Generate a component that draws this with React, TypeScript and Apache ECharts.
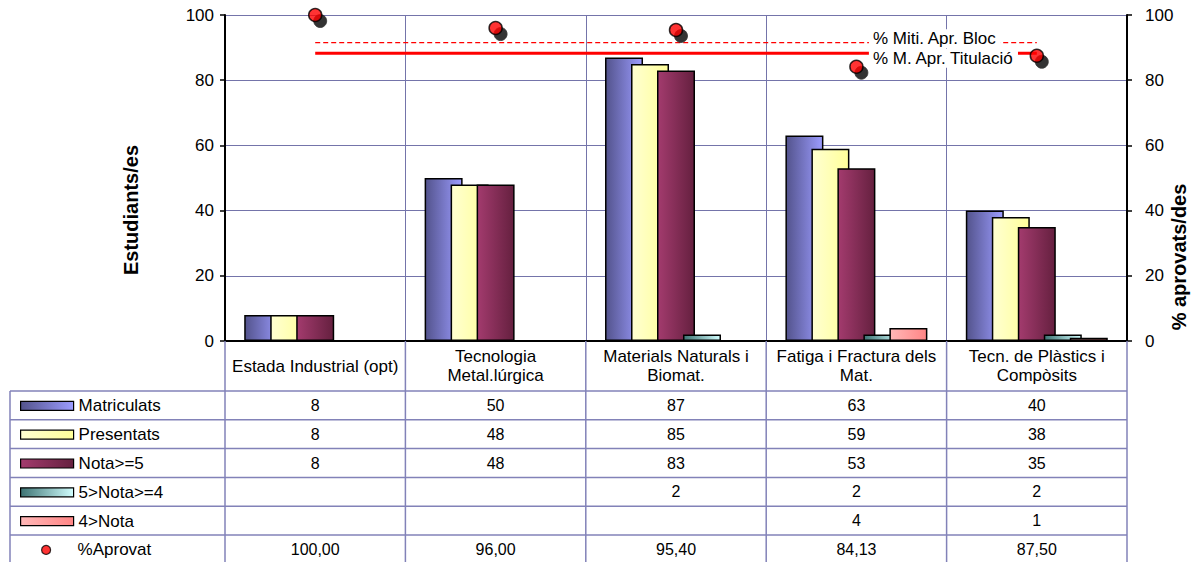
import React, { useEffect, useRef } from 'react';
import * as echarts from 'echarts';

// ---------- data ----------
const categories = [
  'Estada Industrial (opt)',
  'Tecnologia\nMetal.lúrgica',
  'Materials Naturals i\nBiomat.',
  'Fatiga i Fractura dels\nMat.',
  'Tecn. de Plàstics i\nCompòsits',
];
const matriculats = [8, 50, 87, 63, 40];
const presentats = [8, 48, 85, 59, 38];
const notaMes5 = [8, 48, 83, 53, 35];
const nota4a5 = [null, null, 2, 2, 2];
const notaMenys4 = [null, null, null, 4, 1];
const aprovat = [100, 96, 95.4, 84.13, 87.5];
const mitjaBloc = [91.5, 91.5, 91.5, 91.5, 91.5];
const mitjaTitulacio = [88.3, 88.3, 88.3, 88.3, 88.3];
const axisMin = 0;
const axisMax = 100;
const axisStep = 20;

// ---------- layout ----------
const W = 1198;
const H = 562;
const GL = 225;
const GR = 1127;
const GT = 15;
const GB = 341;
const TABLE_LEFT = 10;
const ROW_TOP = 391;
const ROW_H = 28.8;
const FONT = 'Arial, "Liberation Sans", sans-serif';
const GRIDC = '#7474aa';
const TABLEC = '#8282b8';

const grad = (a: string, b: string) =>
  new echarts.graphic.LinearGradient(0, 0, 1, 0, [
    { offset: 0, color: a },
    { offset: 1, color: b },
  ]);

const fmtInt = (v: number | null) => (v == null ? '' : String(v));
const fmtPct = (v: number | null) => (v == null ? '' : v.toFixed(2).replace('.', ','));

const barSeries = [
  { name: 'Matriculats', data: matriculats, color: grad('#53538c', '#9c9cff') },
  { name: 'Presentats', data: presentats, color: grad('#ffffd2', '#ffff99') },
  { name: 'Nota>=5', data: notaMes5, color: grad('#a33b6e', '#65203f') },
  { name: '5>Nota>=4', data: nota4a5, color: grad('#3d7373', '#d2ffff') },
  { name: '4>Nota', data: notaMenys4, color: grad('#ffb8b8', '#ff8585') },
];

const tableRows = [
  { name: 'Matriculats', values: matriculats, fmt: fmtInt },
  { name: 'Presentats', values: presentats, fmt: fmtInt },
  { name: 'Nota>=5', values: notaMes5, fmt: fmtInt },
  { name: '5>Nota>=4', values: nota4a5, fmt: fmtInt },
  { name: '4>Nota', values: notaMenys4, fmt: fmtInt },
  { name: '%Aprovat', values: aprovat, fmt: fmtPct },
];

function buildOption() {
  const rowCenter = (i: number) => ROW_TOP + ROW_H / 2 + i * ROW_H;
  const tableBottom = ROW_TOP + tableRows.length * ROW_H;
  const catW = (GR - GL) / categories.length;

  const xAxes: any[] = [
    {
      type: 'category',
      data: categories,
      position: 'bottom',
      axisLine: { show: true, lineStyle: { color: TABLEC, width: 1.5 } },
      axisTick: { show: false },
      splitLine: { show: true, lineStyle: { color: GRIDC, width: 1 } },
      axisLabel: {
        interval: 0,
        margin: 25,
        verticalAlign: 'middle',
        lineHeight: 19,
        fontSize: 17,
        fontFamily: FONT,
        color: '#000',
      },
    },
    {
      type: 'category',
      data: categories,
      position: 'top',
      axisLine: { show: true, lineStyle: { color: '#000', width: 2 } },
      axisTick: { show: false },
      axisLabel: { show: false },
      splitLine: { show: false },
    },
  ];
  tableRows.forEach((row, i) => {
    xAxes.push({
      type: 'category',
      data: categories,
      position: 'bottom',
      offset: rowCenter(i) - GB,
      axisLine: { show: false },
      axisTick: { show: false },
      splitLine: { show: false },
      axisLabel: {
        interval: 0,
        margin: 0,
        verticalAlign: 'middle',
        fontSize: 16,
        fontFamily: FONT,
        color: '#000',
        formatter: (_v: string, idx: number) => row.fmt(row.values[idx] as any),
      },
    });
  });

  const yAxisCommon = {
    type: 'value',
    min: axisMin,
    max: axisMax,
    interval: axisStep,
    axisLine: { show: true, lineStyle: { color: '#000', width: 2 } },
    axisTick: { show: true, length: 5, lineStyle: { color: '#000', width: 1.5 } },
    axisLabel: { fontSize: 17, fontFamily: FONT, color: '#000' },
  };

  const series: any[] = barSeries.map((b) => ({
    type: 'bar',
    name: b.name,
    data: b.data,
    barWidth: 38,
    barGap: '-31.6%',
    xAxisIndex: 0,
    yAxisIndex: 0,
    itemStyle: { color: b.color, borderColor: '#000', borderWidth: 1.5 },
    z: 2,
  }));

  const lineLabel = (text: string, dy: number) => ({
    show: true,
    position: 'right',
    distance: 12,
    offset: [0, dy],
    formatter: text,
    fontSize: 17,
    fontFamily: FONT,
    color: '#000',
    backgroundColor: '#fff',
    padding: [1, 4, 1, 4],
  });

  const refLine = (name: string, values: number[], label: string, dy: number, lineStyle: any) => ({
    type: 'line',
    name,
    xAxisIndex: 0,
    yAxisIndex: 1,
    symbol: 'circle',
    symbolSize: 1,
    showSymbol: true,
    itemStyle: { color: 'rgba(0,0,0,0)', borderWidth: 0 },
    lineStyle,
    data: values.map((v, i) =>
      i === 3 ? { value: v, label: lineLabel(label, dy) } : v,
    ),
    z: 3,
  });

  series.push(
    refLine('% Miti. Apr. Bloc', mitjaBloc, '% Miti. Apr. Bloc', -4, {
      color: '#ff0000',
      width: 1.3,
      type: [5, 3],
    }),
  );
  series.push(
    refLine('% M. Apr. Titulació', mitjaTitulacio, '% M. Apr. Titulació', 5, {
      color: '#ff0000',
      width: 3,
    }),
  );
  series.push({
    type: 'scatter',
    name: 'shadow',
    xAxisIndex: 0,
    yAxisIndex: 1,
    data: aprovat,
    symbol: 'circle',
    symbolSize: 13,
    symbolOffset: [5, 6],
    itemStyle: { color: '#000', borderColor: '#333', borderWidth: 1 },
    z: 4,
  });
  series.push({
    type: 'scatter',
    name: '%Aprovat',
    xAxisIndex: 0,
    yAxisIndex: 1,
    data: aprovat,
    symbol: 'circle',
    symbolSize: 13,
    itemStyle: { color: '#ff0000', borderColor: '#000', borderWidth: 1.5 },
    z: 5,
  });

  const legends = tableRows.map((row, i) => ({
    data: [row.name],
    orient: 'horizontal',
    left: i < 5 ? 20 : 41,
    top: rowCenter(i) - 8,
    itemWidth: 53,
    itemHeight: 9,
    itemGap: 0,
    padding: 0,
    selectedMode: false,
    icon: i < 5 ? 'rect' : 'circle',
    itemStyle: { borderColor: '#000', borderWidth: 1.2 },
    textStyle: { fontSize: 17, lineHeight: 16, fontFamily: FONT, color: '#000' },
  }));

  const graphics: any[] = [];
  const ln = (x1: number, y1: number, x2: number, y2: number) => ({
    type: 'line',
    shape: { x1, y1, x2, y2 },
    style: { stroke: TABLEC, lineWidth: 1.5 },
    z: 1,
  });
  for (let i = 0; i <= tableRows.length; i++) {
    const y = ROW_TOP + i * ROW_H;
    graphics.push(ln(TABLE_LEFT, y, GR, y));
  }
  graphics.push(ln(TABLE_LEFT, ROW_TOP, TABLE_LEFT, tableBottom));
  for (let k = 0; k <= categories.length; k++) {
    const x = GL + k * catW;
    graphics.push(ln(x, GB, x, tableBottom));
  }
  const title = (text: string, x: number, y: number) => ({
    type: 'text',
    x,
    y,
    rotation: Math.PI / 2,
    style: {
      text,
      fontSize: 20,
      fontWeight: 'bold',
      fontFamily: FONT,
      fill: '#000',
      align: 'center',
      verticalAlign: 'middle',
    },
  });
  graphics.push(title('Estudiants/es', 131, 210));
  graphics.push(title('% aprovats/des', 1179, 257));

  return {
    animation: false,
    backgroundColor: '#fff',
    grid: {
      left: GL,
      right: W - GR,
      top: GT,
      bottom: H - GB,
      containLabel: false,
      outerBoundsMode: 'none',
    },
    legend: legends,
    xAxis: xAxes,
    yAxis: [
      {
        ...yAxisCommon,
        position: 'left',
        axisLabel: { ...yAxisCommon.axisLabel, margin: 11 },
        splitLine: { show: true, lineStyle: { color: GRIDC, width: 1 } },
      },
      {
        ...yAxisCommon,
        position: 'right',
        axisLabel: { ...yAxisCommon.axisLabel, margin: 18 },
        splitLine: { show: false },
      },
    ],
    series,
    graphic: graphics,
  };
}

export default function App() {
  const ref = useRef<HTMLDivElement>(null);
  useEffect(() => {
    document.body.style.margin = '0';
    const chart = echarts.init(ref.current!, null, { renderer: 'svg' });
    chart.setOption(buildOption() as any);
    return () => chart.dispose();
  }, []);
  return <div ref={ref} style={{ width: W, height: H }} />;
}
